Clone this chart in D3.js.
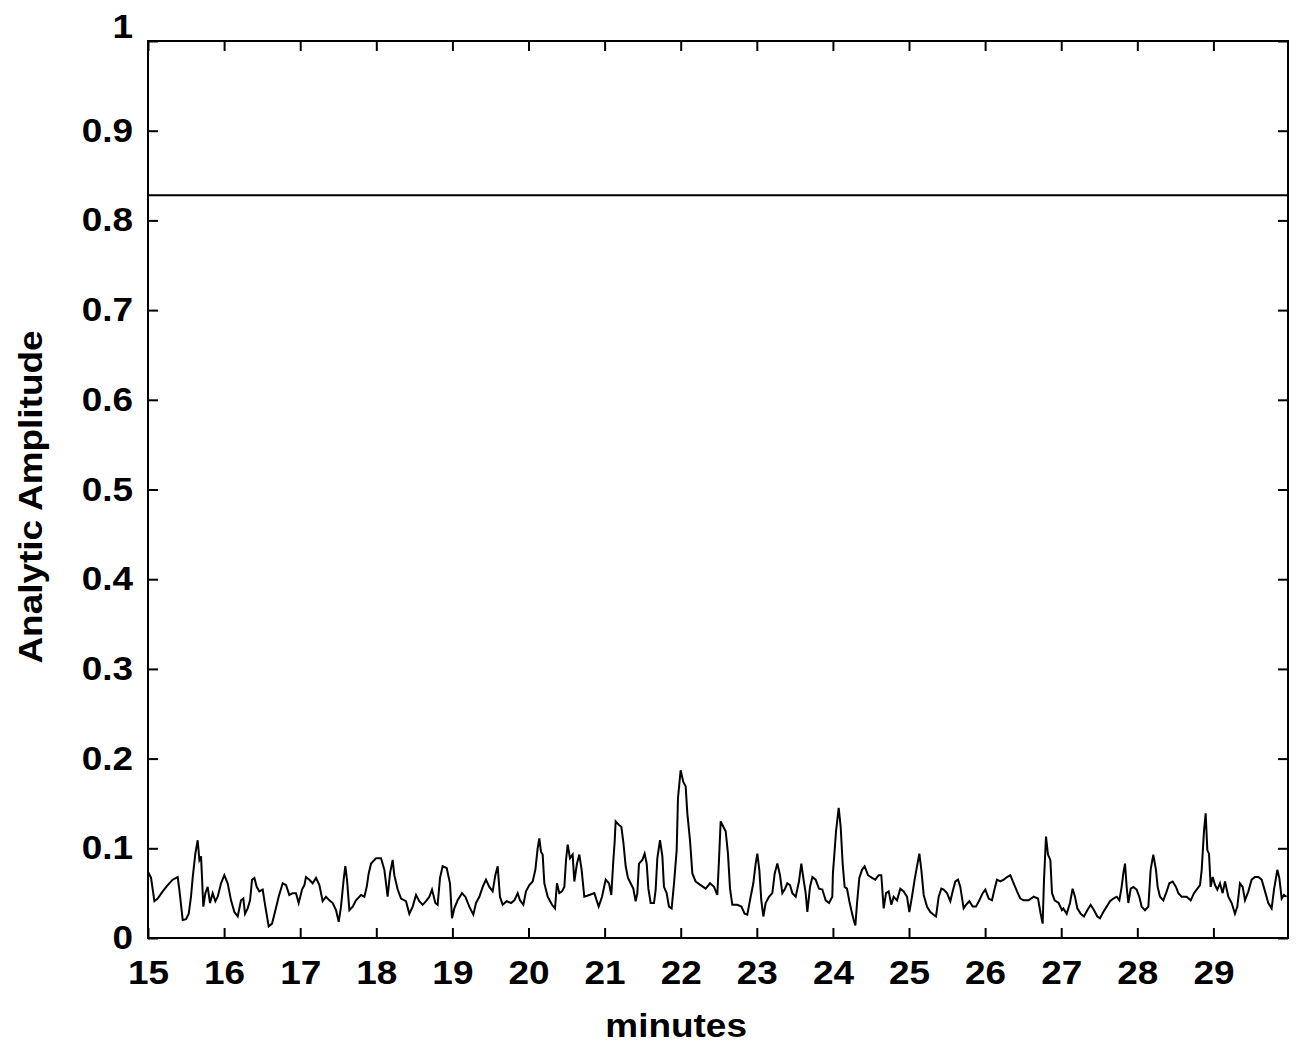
<!DOCTYPE html>
<html>
<head>
<meta charset="utf-8">
<script src="https://cdn.jsdelivr.net/npm/d3@7"></script>
<style>
  html, body { margin: 0; padding: 0; background: #fff; }
  svg { display: block; }
  text { font-family: "Liberation Sans", Arial, sans-serif; font-weight: bold; fill: #000; }
</style>
</head>
<body>
<svg id="chart" width="1300" height="1049"></svg>
<script>
(function () {
// ---- data ----
const xTicks = [15,16,17,18,19,20,21,22,23,24,25,26,27,28,29];
const yTicks = [0,0.1,0.2,0.3,0.4,0.5,0.6,0.7,0.8,0.9,1];
const yTickLabels = ["0","0.1","0.2","0.3","0.4","0.5","0.6","0.7","0.8","0.9","1"];
const xDomain = [15, 29.98];
const yDomain = [0, 1];
const threshold = 0.828;
const xLabel = "minutes";
const yLabel = "Analytic Amplitude";

// [minute, analytic amplitude]
const samples = [
[15.000,0.074],[15.040,0.067],[15.084,0.041],[15.127,0.044],[15.193,0.052],[15.259,0.059],[15.324,0.065],[15.390,0.068],
[15.412,0.054],[15.456,0.020],[15.500,0.021],[15.535,0.027],[15.565,0.046],[15.587,0.067],[15.622,0.094],[15.653,0.109],
[15.675,0.087],[15.697,0.091],[15.727,0.035],[15.754,0.050],[15.784,0.057],[15.815,0.039],[15.850,0.050],[15.885,0.041],
[15.916,0.046],[15.960,0.061],[16.003,0.070],[16.047,0.061],[16.091,0.042],[16.135,0.029],[16.179,0.024],[16.222,0.042],
[16.253,0.044],[16.275,0.027],[16.310,0.033],[16.341,0.042],[16.367,0.065],[16.398,0.067],[16.428,0.057],[16.463,0.052],
[16.507,0.054],[16.542,0.035],[16.586,0.013],[16.630,0.016],[16.674,0.031],[16.717,0.046],[16.770,0.061],[16.814,0.059],
[16.857,0.048],[16.901,0.050],[16.945,0.050],[16.980,0.039],[17.024,0.054],[17.055,0.059],[17.076,0.068],[17.120,0.065],
[17.164,0.061],[17.208,0.067],[17.252,0.059],[17.295,0.041],[17.339,0.046],[17.383,0.042],[17.427,0.039],[17.471,0.031],
[17.506,0.018],[17.536,0.035],[17.571,0.065],[17.593,0.080],[17.615,0.065],[17.646,0.031],[17.690,0.035],[17.733,0.042],
[17.799,0.048],[17.843,0.046],[17.874,0.057],[17.900,0.072],[17.931,0.083],[17.975,0.087],
[17.996,0.089],[18.062,0.089],[18.106,0.076],[18.149,0.046],[18.180,0.072],[18.215,0.087],[18.237,0.070],[18.281,0.054],
[18.325,0.044],[18.390,0.041],[18.434,0.027],[18.478,0.035],[18.522,0.048],[18.565,0.041],[18.609,0.037],[18.653,0.041],
[18.697,0.046],[18.732,0.054],[18.776,0.039],[18.806,0.037],[18.837,0.067],[18.872,0.080],[18.925,0.078],[18.968,0.061],
[18.995,0.022],[19.025,0.033],[19.069,0.042],[19.126,0.050],[19.170,0.046],[19.222,0.035],[19.275,0.026],[19.310,0.039],
[19.354,0.046],[19.398,0.057],[19.441,0.065],[19.485,0.057],[19.529,0.052],[19.564,0.070],[19.595,0.080],[19.625,0.046],
[19.660,0.037],[19.713,0.041],[19.770,0.039],[19.814,0.042],[19.858,0.050],[19.888,0.042],[19.932,0.037],[19.967,0.052],
[20.011,0.059],[20.055,0.063],[20.090,0.076],[20.120,0.100],[20.142,0.111],[20.164,0.096],[20.186,0.093],[20.208,0.061],
[20.252,0.046],[20.309,0.037],[20.348,0.033],[20.374,0.061],[20.405,0.050],[20.440,0.052],[20.471,0.057],[20.493,0.087],
[20.515,0.104],[20.545,0.089],[20.580,0.093],[20.602,0.063],[20.637,0.083],[20.668,0.093],[20.698,0.076],[20.733,0.046],
[20.799,0.048],[20.865,0.050],[20.922,0.035],[20.966,0.046],
[21.014,0.065],[21.058,0.061],[21.088,0.048],[21.115,0.087],[21.132,0.107],[21.145,0.130],[21.189,0.126],[21.220,0.124],
[21.246,0.107],[21.277,0.080],[21.307,0.067],[21.342,0.061],[21.377,0.055],[21.408,0.041],[21.430,0.050],[21.452,0.083],
[21.496,0.087],[21.526,0.094],[21.553,0.083],[21.575,0.055],[21.605,0.039],[21.649,0.039],[21.671,0.054],[21.693,0.089],
[21.728,0.109],[21.759,0.091],[21.780,0.057],[21.815,0.050],[21.846,0.035],[21.881,0.033],[21.912,0.061],[21.947,0.098],
[21.964,0.156],[21.999,0.187],[22.034,0.174],[22.065,0.169],[22.087,0.139],[22.122,0.109],[22.153,0.072],[22.196,0.063],
[22.262,0.059],[22.328,0.055],[22.385,0.061],[22.437,0.057],[22.481,0.048],[22.503,0.087],[22.525,0.130],[22.560,0.124],
[22.591,0.119],[22.621,0.094],[22.648,0.055],[22.678,0.037],[22.744,0.037],[22.797,0.035],[22.840,0.027],[22.875,0.026],
[22.919,0.046],[22.954,0.061],[22.985,0.083],[23.007,0.094],[23.033,0.076],[23.059,0.042],[23.086,0.024],[23.116,0.039],
[23.160,0.046],[23.204,0.050],[23.235,0.072],[23.270,0.083],[23.305,0.070],[23.335,0.050],[23.366,0.054],[23.401,0.061],
[23.436,0.059],[23.467,0.050],[23.511,0.046],[23.554,0.063],[23.585,0.083],[23.611,0.067],[23.642,0.050],[23.664,0.029],
[23.699,0.057],[23.730,0.068],[23.773,0.065],[23.817,0.055],[23.861,0.054],[23.905,0.042],[23.949,0.039],[23.992,0.046],
[24.000,0.072],[24.023,0.098],[24.041,0.119],[24.076,0.145],[24.102,0.124],[24.128,0.083],[24.154,0.057],[24.185,0.055],
[24.216,0.041],[24.242,0.031],[24.273,0.020],[24.295,0.014],[24.317,0.039],[24.347,0.067],[24.382,0.076],[24.417,0.080],
[24.461,0.070],[24.514,0.067],[24.557,0.065],[24.601,0.070],[24.636,0.070],[24.667,0.033],[24.698,0.050],[24.733,0.052],
[24.768,0.037],[24.798,0.046],[24.842,0.042],[24.886,0.055],[24.930,0.052],[24.974,0.046],[25.004,0.029],[25.039,0.046],
[25.074,0.065],[25.105,0.080],[25.136,0.094],[25.162,0.076],[25.193,0.048],[25.236,0.035],[25.280,0.029],[25.324,0.026],
[25.355,0.024],[25.390,0.046],[25.425,0.055],[25.455,0.054],[25.499,0.050],[25.543,0.041],[25.574,0.052],[25.609,0.063],
[25.644,0.065],[25.674,0.057],[25.718,0.033],[25.749,0.037],[25.793,0.041],[25.836,0.035],[25.880,0.035],[25.924,0.042],
[25.968,0.050],[26.003,0.054],[26.047,0.044],[26.090,0.042],[26.125,0.055],[26.156,0.065],[26.200,0.063],[26.244,0.065],
[26.288,0.068],[26.331,0.070],[26.375,0.061],[26.419,0.052],[26.463,0.044],[26.507,0.042],[26.572,0.042],[26.638,0.046],
[26.695,0.044],[26.730,0.027],[26.756,0.016],[26.774,0.065],[26.800,0.113],[26.826,0.093],[26.857,0.087],[26.879,0.050],
[26.914,0.042],[26.966,0.039],[27.010,0.031],
[27.028,0.033],[27.072,0.027],[27.115,0.039],[27.150,0.055],[27.181,0.046],[27.212,0.033],[27.256,0.027],[27.299,0.024],
[27.343,0.031],[27.387,0.037],[27.431,0.031],[27.475,0.024],[27.510,0.022],[27.553,0.029],[27.597,0.035],[27.641,0.041],
[27.685,0.044],[27.729,0.046],[27.764,0.042],[27.794,0.057],[27.816,0.072],[27.838,0.083],[27.860,0.057],[27.882,0.039],
[27.913,0.055],[27.948,0.057],[27.991,0.054],[28.026,0.046],[28.057,0.035],[28.101,0.031],[28.145,0.035],[28.175,0.076],
[28.210,0.093],[28.245,0.076],[28.267,0.057],[28.298,0.046],[28.342,0.042],[28.386,0.052],[28.421,0.061],[28.464,0.063],
[28.508,0.057],[28.539,0.050],[28.583,0.046],[28.648,0.046],[28.701,0.042],[28.745,0.050],[28.789,0.055],[28.824,0.059],
[28.846,0.076],[28.876,0.119],[28.898,0.139],[28.920,0.098],[28.942,0.094],[28.964,0.057],[28.990,0.068],[29.021,0.059],
[29.051,0.054],[29.086,0.061],[29.121,0.050],[29.152,0.063],[29.196,0.046],[29.240,0.039],[29.283,0.027],[29.314,0.035],
[29.349,0.061],[29.384,0.057],[29.415,0.042],[29.459,0.052],[29.502,0.065],[29.546,0.068],[29.590,0.068],[29.634,0.065],
[29.678,0.052],[29.721,0.039],[29.765,0.033],[29.796,0.054],[29.840,0.076],[29.866,0.067],[29.897,0.044],[29.927,0.048],
[29.962,0.046]
];

// ---- layout ----
const margin = {left: 148, top: 41, right: 12, bottom: 111};
const W = 1300, H = 1049;
const iw = W - margin.left - margin.right;   // 1140
const ih = H - margin.top - margin.bottom;   // 897
const SX = 1.12; // horizontal stretch of glyphs seen in the reference

const svg = d3.select("#chart");
const g = svg.append("g").attr("transform", `translate(${margin.left},${margin.top})`);

const x = d3.scaleLinear().domain(xDomain).range([0, iw]);
const y = d3.scaleLinear().domain(yDomain).range([ih, 0]);

const tickLen = 10;

const axBottom = g.append("g").attr("transform", `translate(0,${ih})`)
  .call(d3.axisBottom(x).tickValues(xTicks).tickFormat(d3.format("d")).tickSizeInner(-tickLen).tickSizeOuter(0).tickPadding(22));
const axLeft = g.append("g")
  .call(d3.axisLeft(y).tickValues(yTicks).tickFormat((d, i) => yTickLabels[i]).tickSizeInner(-tickLen).tickSizeOuter(0).tickPadding(15));
const axTop = g.append("g")
  .call(d3.axisTop(x).tickValues(xTicks).tickFormat("").tickSizeInner(-tickLen).tickSizeOuter(0));
const axRight = g.append("g").attr("transform", `translate(${iw},0)`)
  .call(d3.axisRight(y).tickValues(yTicks).tickFormat("").tickSizeInner(-tickLen).tickSizeOuter(0));

[axBottom, axLeft, axTop, axRight].forEach(a => {
  a.select(".domain").remove();
  a.selectAll(".tick line").attr("stroke", "#000").attr("stroke-width", 2);
});

axBottom.selectAll(".tick text")
  .attr("font-size", 33).attr("font-family", "Liberation Sans, Arial, sans-serif").attr("font-weight", "bold")
  .attr("fill", "#000")
  .attr("dy", "0.32em").attr("y", 35)
  .attr("transform", `scale(${SX},1)`);

axLeft.selectAll(".tick text")
  .attr("font-size", 33).attr("font-family", "Liberation Sans, Arial, sans-serif").attr("font-weight", "bold")
  .attr("fill", "#000")
  .attr("x", -15 / SX)
  .attr("transform", `scale(${SX},1)`)
  .attr("dy", d => d === 1 ? "-0.1em" : "0.32em");

// frame
g.append("rect").attr("x", 0).attr("y", 0).attr("width", iw).attr("height", ih)
  .attr("fill", "none").attr("stroke", "#000").attr("stroke-width", 2);

// threshold line
g.append("line")
  .attr("x1", x(xDomain[0])).attr("x2", x(xDomain[1]))
  .attr("y1", y(threshold)).attr("y2", y(threshold))
  .attr("stroke", "#000").attr("stroke-width", 2);

// data line
const line = d3.line().x(d => x(d[0])).y(d => y(d[1]));
g.append("path").datum(samples)
  .attr("d", line)
  .attr("fill", "none").attr("stroke", "#000").attr("stroke-width", 2).attr("stroke-linejoin", "miter");

// axis titles
svg.append("text")
  .attr("transform", `translate(${margin.left + x(21.94)},1025) scale(${SX},1)`)
  .attr("text-anchor", "middle").attr("dy", "0.35em")
  .attr("font-size", 33)
  .text(xLabel);

svg.append("text")
  .attr("transform", `translate(30,497) rotate(-90) scale(${SX},1)`)
  .attr("text-anchor", "middle").attr("dy", "0.35em")
  .attr("font-size", 33)
  .text(yLabel);
})();
</script>
</body>
</html>
